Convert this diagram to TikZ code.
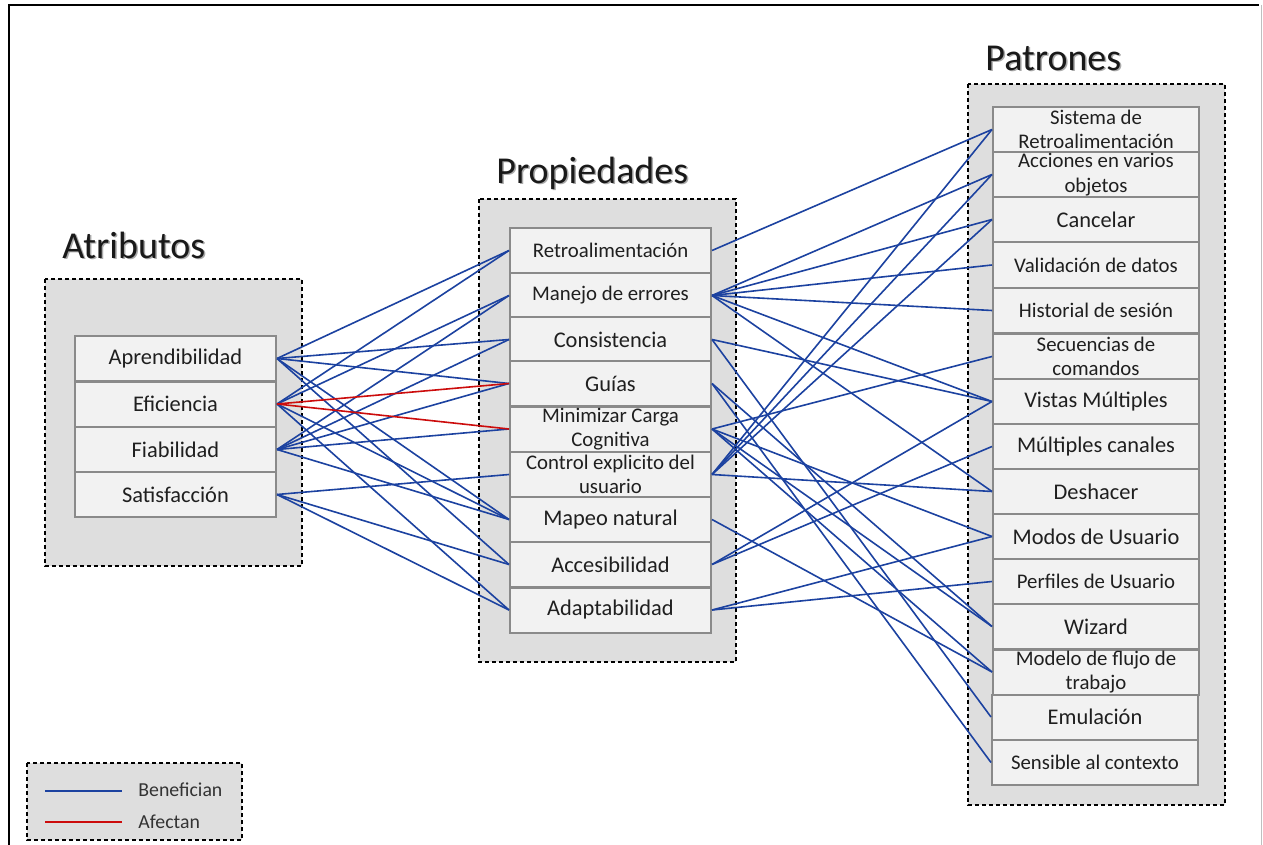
\documentclass[tikz,border=0pt]{standalone}
\usepackage{fontspec}
\setmainfont{Carlito}
\definecolor{linkblue}{RGB}{28,66,160}
\definecolor{linkred}{RGB}{204,12,12}
\definecolor{groupfill}{RGB}{222,222,222}
\definecolor{itemfill}{RGB}{242,242,242}
\definecolor{itemedge}{RGB}{138,138,138}
\definecolor{titleshade}{RGB}{170,170,170}
\begin{document}
\begin{tikzpicture}[x=0.5pt,y=-0.5pt,
  group/.style={draw=black, line width=0.7pt, dash pattern=on 2.2pt off 1.3pt, fill=groupfill},
  item/.style={draw=itemedge, line width=1pt, fill=itemfill, inner sep=0pt,
    minimum width=100.5pt, minimum height=22.5pt, align=center, text=black!88,
    font=\fontsize{10.4}{12.2}\selectfont},
  pitem/.style={item, minimum width=103pt},
  big/.style={font=\fontsize{11.2}{12}\selectfont},
  title/.style={font=\fontsize{19}{22}\selectfont, text=black!90, anchor=west, inner sep=0pt},
  shade/.style={title, text=titleshade},
  benefit/.style={draw=linkblue, line width=0.8pt},
  harm/.style={draw=linkred, line width=0.8pt},
  legendtext/.style={font=\fontsize{9.9}{11}\selectfont, text=black!80, anchor=west, inner sep=0pt}]

\useasboundingbox (0,0) rectangle (1263,845);
\fill[white] (0,0) rectangle (1263,845);

% frame of the slide
\draw[line width=1.1pt] (9,845) -- (9,5) -- (1259,5);
\draw[black!25, line width=0.6pt] (1261.5,5) -- (1261.5,845);

% group panels
\draw[group] (45,279) rectangle (302,566);
\draw[group] (479,199) rectangle (736,662);
\draw[group] (968,84) rectangle (1225,805);

% group titles with a soft drop shadow
\node[shade] (t1s) at (63.5,246.5) {Atributos};
\node[title] (t1) at (62,245) {Atributos};
\node[shade] (t2s) at (497.5,174.5) {Propiedades};
\node[title] (t2) at (496,173) {Propiedades};
\node[shade] (t3s) at (986.5,59.5) {Patrones};
\node[title] (t3) at (985,58) {Patrones};

% attributes
\node[item, big] (a1) at (175.5,358.5) {Aprendibilidad};
\node[item, big] (a2) at (175.5,404) {Eficiencia};
\node[item, big] (a3) at (175.5,449.5) {Fiabilidad};
\node[item, big] (a4) at (175.5,494.5) {Satisfacción};

% properties
\node[item] (p1) at (610.5,250.5) {Retroalimentación};
\node[item] (p2) at (610.5,295.5) {Manejo de errores};
\node[item, big] (p3) at (610.5,339.5) {Consistencia};
\node[item, big] (p4) at (610.5,383.5) {Guías};
\node[item] (p5) at (610.5,429) {Minimizar Carga\\Cognitiva};
\node[item] (p6) at (610.5,474.5) {Control explicito del\\usuario};
\node[item, big] (p7) at (610.5,519.5) {Mapeo natural};
\node[item, big] (p8) at (610.5,564.5) {Accesibilidad};
\node[item, big] (p9) at (610.5,610) {Adaptabilidad};

% patterns
\node[pitem] (q1) at (1096,129.5) {Sistema de\\Retroalimentación};
\node[pitem] (q2) at (1096,174.5) {Acciones en varios\\objetos};
\node[pitem, big] (q3) at (1096,219.5) {Cancelar};
\node[pitem] (q4) at (1096,265) {Validación de datos};
\node[pitem] (q5) at (1096,310.5) {Historial de sesión};
\node[pitem] (q6) at (1096,356.5) {Secuencias de\\comandos};
\node[pitem, big] (q7) at (1096,401.5) {Vistas Múltiples};
\node[pitem, big] (q8) at (1096,446.5) {Múltiples canales};
\node[pitem, big] (q9) at (1096,491.5) {Deshacer};
\node[pitem, big] (q10) at (1096,536.5) {Modos de Usuario};
\node[pitem] (q11) at (1096,581.5) {Perfiles de Usuario};
\node[pitem, big] (q12) at (1096,626.5) {Wizard};
\node[pitem] (q13) at (1096,672) {Modelo de flujo de\\trabajo};
\node[pitem, big] (q14) at (1095,717) {Emulación};
\node[pitem] (q15) at (1095,762.5) {Sensible al contexto};

% attributes -> properties
\foreach \s/\t in {a1/p1, a1/p3, a1/p4, a1/p7, a1/p8,
                   a2/p1, a2/p2, a2/p7, a2/p9,
                   a3/p2, a3/p3, a3/p4, a3/p5, a3/p7,
                   a4/p6, a4/p8, a4/p9}
  \draw[benefit] (\s.east) -- (\t.west);
\foreach \s/\t in {a2/p4, a2/p5}
  \draw[harm] (\s.east) -- (\t.west);

% properties -> patterns
\foreach \s/\t in {p1/q1,
                   p2/q2, p2/q3, p2/q4, p2/q5, p2/q7, p2/q9,
                   p3/q7, p3/q14,
                   p4/q12, p4/q15,
                   p5/q6, p5/q10, p5/q12, p5/q13,
                   p6/q1, p6/q2, p6/q3, p6/q9,
                   p7/q13,
                   p8/q7, p8/q8,
                   p9/q10, p9/q11}
  \draw[benefit] (\s.east) -- (\t.west);

% legend
\draw[group] (27,763) rectangle (242,840);
\coordinate (lb1) at (45,791);
\coordinate (lb2) at (122,791);
\coordinate (lr1) at (45,822);
\coordinate (lr2) at (122,822);
\draw[benefit, line width=1.1pt] (lb1) -- (lb2);
\draw[harm, line width=1.1pt] (lr1) -- (lr2);
\node[legendtext] (lt1) at (138,790) {Benefician};
\node[legendtext] (lt2) at (138,822) {Afectan};
\end{tikzpicture}
\end{document}
